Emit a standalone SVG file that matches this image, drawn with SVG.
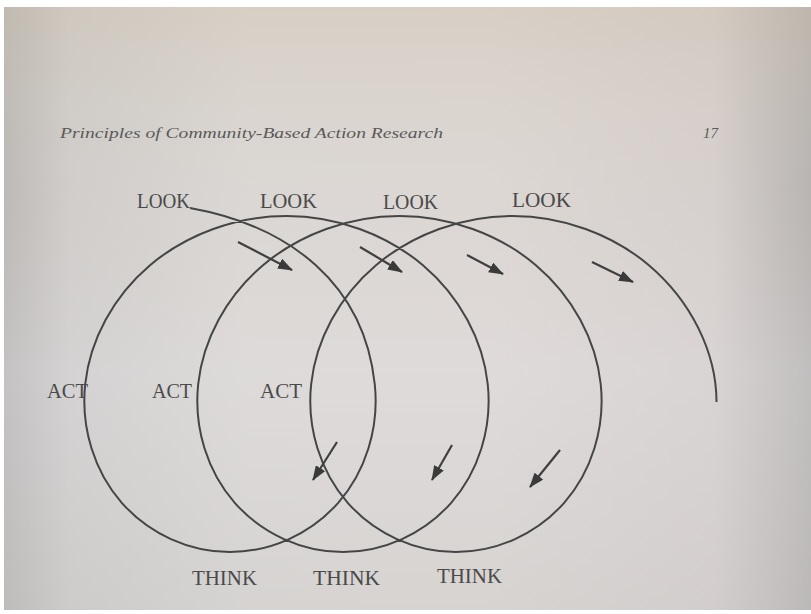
<svg xmlns="http://www.w3.org/2000/svg" width="811" height="614" viewBox="0 0 811 614">
<defs>
<linearGradient id="bgx" x1="0" y1="0" x2="1" y2="0">
<stop offset="0" stop-color="#b9b7b5"/>
<stop offset="0.08" stop-color="#cfcdcb"/>
<stop offset="0.3" stop-color="#dbd8d5"/>
<stop offset="0.6" stop-color="#ddd8d5"/>
<stop offset="0.88" stop-color="#d6d0ce"/>
<stop offset="1" stop-color="#b5b2b0"/>
</linearGradient>
<linearGradient id="bgy" x1="0" y1="0" x2="0" y2="1">
<stop offset="0" stop-color="#cdbfa5" stop-opacity="0.35"/>
<stop offset="0.3" stop-color="#d8cfc8" stop-opacity="0.1"/>
<stop offset="0.6" stop-color="#e4e2e8" stop-opacity="0.25"/>
<stop offset="1" stop-color="#c9c8c8" stop-opacity="0.3"/>
</linearGradient>
<marker id="ah" markerUnits="userSpaceOnUse" markerWidth="15" markerHeight="11" refX="14" refY="5.5" orient="auto">
<path d="M0,0 L15,5.5 L0,11 z" fill="#3a3a3a"/>
</marker>
<style>
.lbl{font-family:"Liberation Serif","Times New Roman",serif;font-size:20px;fill:#4a4a4a}
.hdr{font-family:"Liberation Serif","Times New Roman",serif;font-style:italic;font-size:15px;fill:#5a5a5a}
.ln{fill:none;stroke:#454545;stroke-width:2}
.ar{fill:none;stroke:#3f3f3f;stroke-width:2.2}
</style>
</defs>
<rect x="0" y="0" width="811" height="614" fill="#ffffff"/>
<rect x="4" y="7" width="807" height="603" fill="url(#bgx)"/>
<rect x="4" y="7" width="807" height="603" fill="url(#bgy)"/>
<g id="header">
<text class="hdr" x="60" y="138" textLength="383" lengthAdjust="spacingAndGlyphs">Principles of Community-Based Action Research</text>
<text class="hdr" x="703" y="138">17</text>
</g>
<g id="connectors">
<path id="spiral" class="ln" d="M190,208 C290,226 364,284 374.74,384 C379.45,427.98 365.52,471.69 338.2,502.79 C310.88,533.89 270.57,552 229.99,552 C189.41,552 149.1,533.89 121.78,502.79 C94.46,471.69 80.52,427.98 85.23,384 C89.94,340.02 113.29,296.31 150.02,265.21 C186.75,234.11 236.48,216 286.48,216 C336.48,216 386.2,234.11 422.93,265.21 C459.66,296.31 483.01,340.02 487.72,384 C492.43,427.98 478.49,471.69 451.17,502.79 C423.85,533.89 383.54,552 342.96,552 C302.38,552 262.08,533.89 234.76,502.79 C207.44,471.69 193.5,427.98 198.21,384 C202.92,340.02 226.27,296.31 263,265.21 C299.73,234.11 349.45,216 399.45,216 C449.45,216 499.17,234.11 535.9,265.21 C572.63,296.31 595.99,340.02 600.7,384 C605.41,427.98 591.47,471.69 564.15,502.79 C536.83,533.89 496.52,552 455.94,552 C415.36,552 375.05,533.89 347.73,502.79 C320.41,471.69 306.47,427.98 311.18,384 C315.89,340.02 339.25,296.31 375.98,265.21 C412.71,234.11 462.43,216 512.43,216 C562.43,216 612.15,234.11 648.88,265.21 C690.62,300.55 716.5,352 716.5,402"/>
<line class="ar" x1="238" y1="242" x2="292" y2="270" marker-end="url(#ah)"/>
<line class="ar" x1="360" y1="247" x2="402" y2="272" marker-end="url(#ah)"/>
<line class="ar" x1="467" y1="255" x2="503" y2="274" marker-end="url(#ah)"/>
<line class="ar" x1="592" y1="262" x2="633" y2="282" marker-end="url(#ah)"/>
<line class="ar" x1="337" y1="442" x2="313" y2="480" marker-end="url(#ah)"/>
<line class="ar" x1="452" y1="445" x2="432" y2="480" marker-end="url(#ah)"/>
<line class="ar" x1="560" y1="450" x2="530" y2="487" marker-end="url(#ah)"/>
</g>
<g id="look1"><text class="lbl" x="137" y="208" textLength="53" lengthAdjust="spacingAndGlyphs">LOOK</text></g>
<g id="look2"><text class="lbl" x="260" y="208" textLength="57" lengthAdjust="spacingAndGlyphs">LOOK</text></g>
<g id="look3"><text class="lbl" x="383" y="209" textLength="55" lengthAdjust="spacingAndGlyphs">LOOK</text></g>
<g id="look4"><text class="lbl" x="512" y="207" textLength="59" lengthAdjust="spacingAndGlyphs">LOOK</text></g>
<g id="act1"><text class="lbl" x="47" y="398" textLength="41" lengthAdjust="spacingAndGlyphs">ACT</text></g>
<g id="act2"><text class="lbl" x="152" y="398" textLength="40" lengthAdjust="spacingAndGlyphs">ACT</text></g>
<g id="act3"><text class="lbl" x="260" y="398" textLength="42" lengthAdjust="spacingAndGlyphs">ACT</text></g>
<g id="think1"><text class="lbl" x="192" y="585" textLength="65" lengthAdjust="spacingAndGlyphs">THINK</text></g>
<g id="think2"><text class="lbl" x="313" y="585" textLength="67" lengthAdjust="spacingAndGlyphs">THINK</text></g>
<g id="think3"><text class="lbl" x="437" y="583" textLength="65" lengthAdjust="spacingAndGlyphs">THINK</text></g>
</svg>
